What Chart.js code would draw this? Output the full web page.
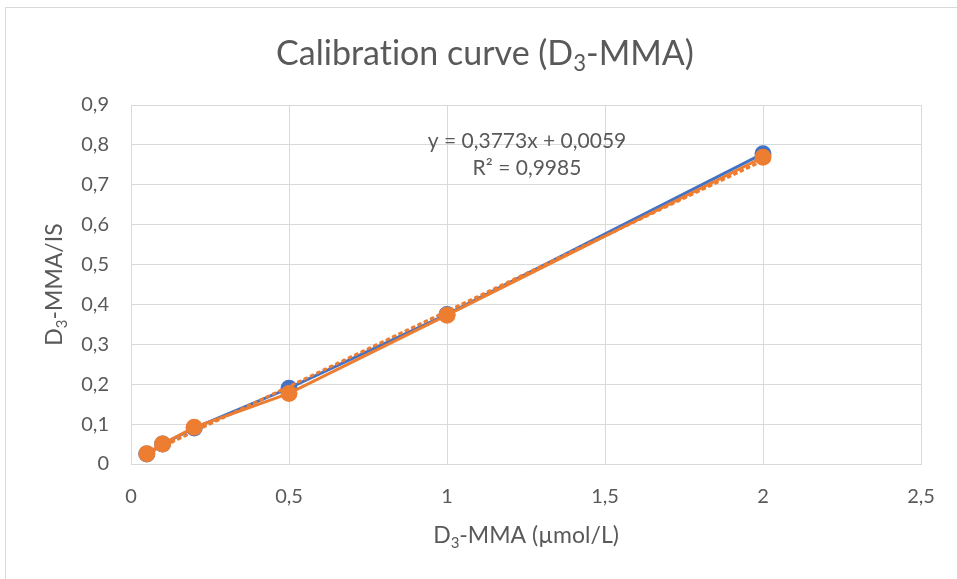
<!DOCTYPE html>
<html>
<head>
<meta charset="utf-8">
<script src="https://cdn.jsdelivr.net/npm/chart.js@4.4.1/dist/chart.umd.min.js"></script>
<style>
  html, body { margin: 0; padding: 0; background: #fff; }
  #wrap { width: 957px; height: 579px; }
</style>
</head>
<body>
<div id="wrap"><canvas id="calChart" width="957" height="579"></canvas></div>
<script>
// concentrations (umol/L)
const concentrations = [0.05, 0.1, 0.2, 0.5, 1, 2];
// D3-MMA / IS ratios, two series
const seriesBlue = [0.025, 0.05, 0.09, 0.19, 0.375, 0.778];
const seriesOrange = [0.026, 0.05, 0.092, 0.177, 0.373, 0.769];
// linear trendline end points (y = 0,3773x + 0,0059)
const trendX = [0.05, 2];
const trendY = [0.0248, 0.7605];
const trendLabel = ['y = 0,3773x + 0,0059', 'R\u00b2 = 0,9985'];

const FONT = 'Lato, "Open Sans", sans-serif';
const GREY_TXT = '#595959';

const toPoints = (xs, ys) => xs.map((x, i) => ({ x: x, y: ys[i] }));
const fmt = (v) => String(Math.round(v * 10) / 10).replace('.', ',');

// draws text with a subscript piece: parts = [[text, isSub], ...]
function drawSub(ctx, parts, size, cx, cy) {
    let total = 0;
    parts.forEach(p => {
        ctx.font = (p[1] ? size * 0.65 : size) + 'px ' + FONT;
        total += ctx.measureText(p[0]).width;
    });
    let x = cx - total / 2;
    parts.forEach(p => {
        ctx.font = (p[1] ? size * 0.65 : size) + 'px ' + FONT;
        ctx.fillText(p[0], x, p[1] ? cy + size * 0.3 : cy);
        x += ctx.measureText(p[0]).width;
    });
}

const decorPlugin = {
    id: 'decor',
    beforeDraw(chart) {
        const ctx = chart.ctx;
        ctx.save();
        ctx.fillStyle = '#fff';
        ctx.fillRect(0, 0, chart.width, chart.height);
        ctx.strokeStyle = '#d9d9d9';
        ctx.lineWidth = 1;
        ctx.strokeRect(5.5, 7.5, chart.width, chart.height);
        ctx.restore();
    },
    afterDraw(chart) {
        const ctx = chart.ctx;
        const a = chart.chartArea;
        ctx.save();
        ctx.fillStyle = GREY_TXT;
        ctx.textBaseline = 'middle';
        ctx.textAlign = 'left';
        // title (ZWNJ keeps Lato from joining "ti")
        drawSub(ctx, [['Calibrat\u200Cion curve (D', false], ['3', true], ['-MMA)', false]], 34, 485, 54);
        // x axis title
        drawSub(ctx, [['D', false], ['3', true], ['-MMA (\u00b5mol/L)', false]], 23, (a.left + a.right) / 2, 536);
        // y axis title
        ctx.save();
        ctx.translate(55, (a.top + a.bottom) / 2);
        ctx.rotate(-Math.PI / 2);
        drawSub(ctx, [['D', false], ['3', true], ['-MMA/IS', false]], 23, 0, 0);
        ctx.restore();
        // trendline label
        ctx.textAlign = 'center';
        ctx.font = '21px ' + FONT;
        ctx.fillText(trendLabel[0], 527, 141);
        ctx.fillText(trendLabel[1], 527, 168);
        ctx.restore();
    }
};

const data = {
    datasets: [{
        label: 'Series1',
        data: toPoints(concentrations, seriesBlue),
        borderColor: '#4472C4',
        backgroundColor: '#4472C4',
        borderWidth: 3,
        pointRadius: 7,
        pointHoverRadius: 7,
        order: 3
    }, {
        label: 'Linear trend',
        data: toPoints(trendX, trendY),
        borderColor: '#ED7D31',
        borderWidth: 3,
        borderDash: [2, 5],
        borderCapStyle: 'round',
        pointRadius: 0,
        order: 2
    }, {
        label: 'Series2',
        data: toPoints(concentrations, seriesOrange),
        borderColor: '#ED7D31',
        backgroundColor: '#ED7D31',
        borderWidth: 3,
        pointRadius: 7,
        pointHoverRadius: 7,
        order: 1
    }]
};

const config = {
    type: 'line',
    data: data,
    options: {
        responsive: false,
        animation: false,
        layout: { padding: { left: 0, right: 36, top: 105, bottom: 0 } },
        scales: {
            x: {
                type: 'linear',
                min: 0,
                max: 2.5,
                afterFit: (s) => { s.height = 115; },
                ticks: {
                    stepSize: 0.5,
                    padding: 21,
                    color: GREY_TXT,
                    font: { family: FONT, size: 20 },
                    callback: (v) => fmt(v)
                },
                grid: { color: '#d9d9d9', lineWidth: 1, drawTicks: false },
                border: { color: '#d9d9d9' }
            },
            y: {
                min: 0,
                max: 0.9,
                afterFit: (s) => { s.width = 131; },
                ticks: {
                    stepSize: 0.1,
                    padding: 22,
                    color: GREY_TXT,
                    font: { family: FONT, size: 20 },
                    callback: (v) => fmt(v)
                },
                grid: { color: '#d9d9d9', lineWidth: 1, drawTicks: false },
                border: { color: '#d9d9d9' }
            }
        },
        plugins: {
            legend: { display: false },
            title: { display: false },
            tooltip: { enabled: false }
        }
    },
    plugins: [decorPlugin]
};

const myChart = new Chart(document.getElementById('calChart').getContext('2d'), config);
</script>
</body>
</html>
